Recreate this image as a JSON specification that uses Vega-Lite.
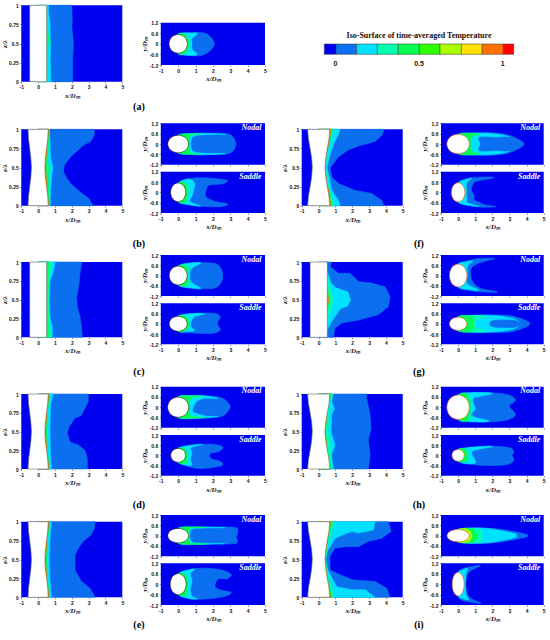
{"$schema":"https://vega.github.io/schema/vega-lite/v6.json","autosize":"none","width":550,"height":640,"padding":0,"background":"white",
"resolve":{"scale":{"x":"independent","y":"independent"},"axis":{"x":"independent","y":"independent"}},
"config":{"view":{"stroke":null},"axis":{"grid":false,"domain":false,"tickSize":1.5,"tickWidth":0.5,"tickColor":"#333","labelFont":"Liberation Sans","labelFontWeight":"bold","labelFontSize":5,"labelPadding":1.5,"labelColor":"#111","titleFont":"Liberation Serif","titleFontStyle":"italic","titleFontWeight":"bold","titleFontSize":7,"titleColor":"#111","titlePadding":1.5,"labelOverlap":false,"labelFlush":false},"range":{"category":["#ffffff","#0000f0","#0a70f0","#00e0ff","#00ffb0","#00ff50","#30ff00","#a8ff00","#ffe000","#ff7000","#ff0000","#0a70f0","#ffffff","#ffffff"],"ordinal":["#666666","#0000f0","#0a70f0","#00e0ff","#00ffb0","#00ff50","#30ff00","#a8ff00","#ffe000","#ff7000","#ff0000","#0a70f0","#2a1a10","#e8500a"]},"style":{"c":{"strokeWidth":0.6},"bg":{"color":"#0000f0"},"lab":{"font":"Liberation Serif","fontWeight":"bold","fontStyle":"italic","fontSize":8,"color":"#ffffff","align":"right","baseline":"middle"},"cap":{"font":"Liberation Serif","fontWeight":"bold","fontSize":10,"color":"#000000","align":"center","baseline":"middle"}}},
"datasets":{"bgL":[{"x":-1,"x2":5,"y":0,"y2":1}],"bgS":[{"x":-1,"x2":5,"y":-1.2,"y2":1.2}]},
"layer":[
{"encoding":{"x":{"field":"x","type":"quantitative","scale":{"domain":[-0.066,1.066],"range":[324.3,513.7],"nice":false},"axis":null},"y":{"field":"y","type":"quantitative","scale":{"domain":[0,1],"range":[54.3,44]},"axis":null}},"layer":[{"data":{"values":[{"x":-0.066,"x2":0.004,"y":0,"y2":1,"l":"L0"},{"x":0.004,"x2":0.127,"y":0,"y2":1,"l":"L1"},{"x":0.127,"x2":0.251,"y":0,"y2":1,"l":"L2"},{"x":0.251,"x2":0.376,"y":0,"y2":1,"l":"L3"},{"x":0.376,"x2":0.502,"y":0,"y2":1,"l":"L4"},{"x":0.502,"x2":0.625,"y":0,"y2":1,"l":"L5"},{"x":0.625,"x2":0.753,"y":0,"y2":1,"l":"L6"},{"x":0.753,"x2":0.878,"y":0,"y2":1,"l":"L7"},{"x":0.878,"x2":1.004,"y":0,"y2":1,"l":"L8"},{"x":1.004,"x2":1.066,"y":0,"y2":1,"l":"L9"}]},"mark":{"type":"rect","stroke":"#333","strokeWidth":0.5},"encoding":{"x2":{"field":"x2"},"y2":{"field":"y2"},"fill":{"field":"l","type":"nominal","legend":null}}},
{"data":{"values":[{"x":-0.066,"y":0,"l":"L0"},{"x":0.127,"y":0,"l":"L2"},{"x":0.251,"y":0,"l":"L3"},{"x":0.376,"y":0,"l":"L4"},{"x":0.502,"y":0,"l":"L5"},{"x":0.625,"y":0,"l":"L6"},{"x":0.753,"y":0,"l":"L7"},{"x":0.878,"y":0,"l":"L8"},{"x":1.004,"y":0,"l":"L9"}]},"mark":{"type":"point","opacity":0,"size":1},"encoding":{"stroke":{"field":"l","type":"ordinal","legend":null}}},
{"data":{"values":[{"x":0,"y":-0.9,"t":"0"},{"x":0.5,"y":-0.9,"t":"0.5"},{"x":1,"y":-0.9,"t":"1"}]},"mark":{"type":"text","font":"Liberation Sans","fontWeight":"bold","fontSize":7,"fill":"#111","baseline":"middle"},"encoding":{"text":{"field":"t"}}},
{"data":{"values":[{"x":0.5,"y":1.73,"t":"Iso-Surface of time-averaged Temperature"}]},"mark":{"type":"text","font":"Liberation Serif","fontWeight":"bold","fontSize":8,"fill":"#111","baseline":"middle"},"encoding":{"text":{"field":"t"}}}]},

{"encoding":{"x":{"field":"x","type":"quantitative","scale":{"domain":[-1,5],"range":[21.3,122.3]},"axis":{"orient":"bottom","offset":-558.3,"title":"x/Dₘ","values":[-1,0,1,2,3,4,5],"labelExpr":"''+datum.value"}},"y":{"field":"y","type":"quantitative","scale":{"domain":[0,1],"range":[81.7,5.3]},"axis":{"orient":"left","offset":-21.3,"title":"z/λ","values":[0,0.25,0.5,0.75,1],"labelExpr":"''+datum.value"}}},"layer":[{"data":{"name":"bgL"},"mark":{"type":"rect","style":"bg"},"encoding":{"x2":{"field":"x2"},"y2":{"field":"y2"}}},{"data":{"values":[
{"l":"L1","x":2.0,"y":1},{"l":"L1","x":2.03,"y":0.8},{"l":"L1","x":2.0,"y":0.72},{"l":"L1","x":2.1,"y":0.5},{"l":"L1","x":2.05,"y":0.3},{"l":"L1","x":2.05,"y":0},{"l":"L1","x":0,"y":0},{"l":"L1","x":0,"y":1},
{"l":"L2","x":0.62,"y":1},{"l":"L2","x":0.62,"y":0.9},{"l":"L2","x":0.7,"y":0.8},{"l":"L2","x":0.72,"y":0.6},{"l":"L2","x":0.75,"y":0.5},{"l":"L2","x":0.72,"y":0.3},{"l":"L2","x":0.75,"y":0.1},{"l":"L2","x":0.75,"y":0},{"l":"L2","x":0,"y":0},{"l":"L2","x":0,"y":1},
{"l":"L4","x":0.53,"y":1},{"l":"L4","x":0.55,"y":0.75},{"l":"L4","x":0.62,"y":0.55},{"l":"L4","x":0.56,"y":0.4},{"l":"L4","x":0.54,"y":0},{"l":"L4","x":0,"y":0},{"l":"L4","x":0,"y":1},
{"l":"G","x":0.5,"y":1},{"l":"G","x":0.5,"y":0},{"l":"G","x":-0.5,"y":0},{"l":"G","x":-0.5,"y":1}]},"mark":{"type":"line","style":"c","interpolate":"linear-closed"},"encoding":{"fill":{"field":"l","type":"nominal","legend":null},"stroke":{"field":"l","type":"ordinal","legend":null},"order":{"value":null}}}]},

{"encoding":{"x":{"field":"x","type":"quantitative","scale":{"domain":[-1,5],"range":[160.8,265]},"axis":{"orient":"bottom","offset":-575,"title":"x/Dₘ","values":[-1,0,1,2,3,4,5],"labelExpr":"''+datum.value"}},"y":{"field":"y","type":"quantitative","scale":{"domain":[-1.2,1.2],"range":[65,22.7],"nice":false},"axis":{"orient":"left","offset":-160.8,"title":"y/Dₘ","values":[-1.2,-0.6,0,0.6,1.2],"labelExpr":"''+datum.value"}}},"layer":[{"data":{"name":"bgS"},"mark":{"type":"rect","style":"bg"},"encoding":{"x2":{"field":"x2"},"y2":{"field":"y2"}}},{"data":{"values":[
{"l":"L1","x":0,"y":0.5},{"l":"L1","x":0.7,"y":0.62},{"l":"L1","x":1.3,"y":0.64},{"l":"L1","x":1.75,"y":0.5},{"l":"L1","x":2.08,"y":0},{"l":"L1","x":1.75,"y":-0.46},{"l":"L1","x":1.3,"y":-0.66},{"l":"L1","x":0.7,"y":-0.66},{"l":"L1","x":0,"y":-0.5},{"l":"L1","x":-0.2,"y":0},
{"l":"L2","x":0,"y":0.55},{"l":"L2","x":0.8,"y":0.62},{"l":"L2","x":1.1,"y":0.58},{"l":"L2","x":0.8,"y":0.3},{"l":"L2","x":0.8,"y":0},{"l":"L2","x":0.8,"y":-0.3},{"l":"L2","x":1.1,"y":-0.58},{"l":"L2","x":0.8,"y":-0.65},{"l":"L2","x":0,"y":-0.55},{"l":"L2","x":-0.2,"y":0},
{"l":"L4","x":0,"y":0.54},{"l":"L4","x":0.42,"y":0.5},{"l":"L4","x":0.58,"y":0.25},{"l":"L4","x":0.6,"y":0},{"l":"L4","x":0.58,"y":-0.25},{"l":"L4","x":0.42,"y":-0.52},{"l":"L4","x":0,"y":-0.54},
{"l":"W","x":0.53,"y":0},{"l":"W","x":0.38,"y":0.38},{"l":"W","x":0,"y":0.53},{"l":"W","x":-0.38,"y":0.38},{"l":"W","x":-0.53,"y":0},{"l":"W","x":-0.38,"y":-0.38},{"l":"W","x":0,"y":-0.53},{"l":"W","x":0.38,"y":-0.38}]},"mark":{"type":"line","style":"c","interpolate":"cardinal-closed"},"encoding":{"fill":{"field":"l","type":"nominal","legend":null},"stroke":{"field":"l","type":"ordinal","legend":null},"order":{"value":null}}},
{"data":{"values":[{"x":-2.26,"y":-3.59,"t":"(a)"}]},"mark":{"type":"text","style":"cap"},"encoding":{"text":{"field":"t"}}}]},

{"encoding":{"x":{"field":"x","type":"quantitative","scale":{"domain":[-1,5],"range":[21.3,122.3]},"axis":{"orient":"bottom","offset":-434.3,"title":"x/Dₘ","values":[-1,0,1,2,3,4,5],"labelExpr":"''+datum.value"}},"y":{"field":"y","type":"quantitative","scale":{"domain":[0,1],"range":[205.7,129.3]},"axis":{"orient":"left","offset":-21.3,"title":"z/λ","values":[0,0.25,0.5,0.75,1],"labelExpr":"''+datum.value"}}},"layer":[{"data":{"name":"bgL"},"mark":{"type":"rect","style":"bg"},"encoding":{"x2":{"field":"x2"},"y2":{"field":"y2"}}},{"data":{"values":[
{"l":"L1","x":3.32,"y":1},{"l":"L1","x":3.34,"y":0.93},{"l":"L1","x":3.12,"y":0.84},{"l":"L1","x":2.68,"y":0.79},{"l":"L1","x":2.39,"y":0.73},{"l":"L1","x":1.99,"y":0.655},{"l":"L1","x":1.55,"y":0.53},{"l":"L1","x":1.5,"y":0.445},{"l":"L1","x":1.7,"y":0.36},{"l":"L1","x":1.93,"y":0.29},{"l":"L1","x":2.49,"y":0.18},{"l":"L1","x":2.98,"y":0.1},{"l":"L1","x":3.28,"y":0},{"l":"L1","x":0,"y":0},{"l":"L1","x":0,"y":1},
{"l":"L2","x":0.68,"y":1},{"l":"L2","x":0.72,"y":0.75},{"l":"L2","x":0.75,"y":0.62},{"l":"L2","x":0.88,"y":0.5},{"l":"L2","x":0.82,"y":0.42},{"l":"L2","x":0.75,"y":0.2},{"l":"L2","x":0.72,"y":0},{"l":"L2","x":0,"y":0},{"l":"L2","x":0,"y":1},
{"l":"L4","x":0.64,"y":1},{"l":"L4","x":0.6,"y":0.75},{"l":"L4","x":0.55,"y":0.6},{"l":"L4","x":0.62,"y":0.5},{"l":"L4","x":0.6,"y":0.35},{"l":"L4","x":0.62,"y":0.15},{"l":"L4","x":0.66,"y":0},{"l":"L4","x":0,"y":0},{"l":"L4","x":0,"y":1},
{"l":"L8","x":0.62,"y":1},{"l":"L8","x":0.55,"y":0.8},{"l":"L8","x":0.46,"y":0.6},{"l":"L8","x":0.45,"y":0.5},{"l":"L8","x":0.47,"y":0.4},{"l":"L8","x":0.55,"y":0.2},{"l":"L8","x":0.62,"y":0},{"l":"L8","x":0,"y":0},{"l":"L8","x":0,"y":1},
{"l":"G","x":0.6,"y":1},{"l":"G","x":0.57,"y":0.875},{"l":"G","x":0.5,"y":0.75},{"l":"G","x":0.43,"y":0.625},{"l":"G","x":0.4,"y":0.5},{"l":"G","x":0.43,"y":0.375},{"l":"G","x":0.5,"y":0.25},{"l":"G","x":0.57,"y":0.125},{"l":"G","x":0.6,"y":0},{"l":"G","x":-0.6,"y":0},{"l":"G","x":-0.57,"y":0.125},{"l":"G","x":-0.5,"y":0.25},{"l":"G","x":-0.43,"y":0.375},{"l":"G","x":-0.4,"y":0.5},{"l":"G","x":-0.43,"y":0.625},{"l":"G","x":-0.5,"y":0.75},{"l":"G","x":-0.57,"y":0.875},{"l":"G","x":-0.6,"y":1}]},"mark":{"type":"line","style":"c","interpolate":"linear-closed"},"encoding":{"fill":{"field":"l","type":"nominal","legend":null},"stroke":{"field":"l","type":"ordinal","legend":null},"order":{"value":null}}}]},

{"encoding":{"x":{"field":"x","type":"quantitative","scale":{"domain":[-1,5],"range":[21.3,122.3]},"axis":{"orient":"bottom","offset":-302.7,"title":"x/Dₘ","values":[-1,0,1,2,3,4,5],"labelExpr":"''+datum.value"}},"y":{"field":"y","type":"quantitative","scale":{"domain":[0,1],"range":[337.3,262]},"axis":{"orient":"left","offset":-21.3,"title":"z/λ","values":[0,0.25,0.5,0.75,1],"labelExpr":"''+datum.value"}}},"layer":[{"data":{"name":"bgL"},"mark":{"type":"rect","style":"bg"},"encoding":{"x2":{"field":"x2"},"y2":{"field":"y2"}}},{"data":{"values":[
{"l":"L1","x":2.6,"y":1},{"l":"L1","x":2.5,"y":0.88},{"l":"L1","x":2.45,"y":0.75},{"l":"L1","x":2.35,"y":0.6},{"l":"L1","x":2.28,"y":0.54},{"l":"L1","x":2.33,"y":0.4},{"l":"L1","x":2.48,"y":0.28},{"l":"L1","x":2.58,"y":0.14},{"l":"L1","x":2.62,"y":0},{"l":"L1","x":0,"y":0},{"l":"L1","x":0,"y":1},
{"l":"L2","x":1.0,"y":1},{"l":"L2","x":0.9,"y":0.87},{"l":"L2","x":0.7,"y":0.74},{"l":"L2","x":0.66,"y":0.5},{"l":"L2","x":0.7,"y":0.27},{"l":"L2","x":0.84,"y":0.14},{"l":"L2","x":0.84,"y":0},{"l":"L2","x":0,"y":0},{"l":"L2","x":0,"y":1},
{"l":"L3","x":0.8,"y":1},{"l":"L3","x":0.66,"y":0.8},{"l":"L3","x":0.62,"y":0.5},{"l":"L3","x":0.66,"y":0.2},{"l":"L3","x":0.75,"y":0},{"l":"L3","x":0,"y":0},{"l":"L3","x":0,"y":1},
{"l":"L4","x":0.64,"y":1},{"l":"L4","x":0.6,"y":0.75},{"l":"L4","x":0.57,"y":0.5},{"l":"L4","x":0.6,"y":0.2},{"l":"L4","x":0.62,"y":0},{"l":"L4","x":0,"y":0},{"l":"L4","x":0,"y":1},
{"l":"G","x":0.5,"y":1},{"l":"G","x":0.5,"y":0},{"l":"G","x":-0.5,"y":0},{"l":"G","x":-0.5,"y":1}]},"mark":{"type":"line","style":"c","interpolate":"linear-closed"},"encoding":{"fill":{"field":"l","type":"nominal","legend":null},"stroke":{"field":"l","type":"ordinal","legend":null},"order":{"value":null}}}]},

{"encoding":{"x":{"field":"x","type":"quantitative","scale":{"domain":[-1,5],"range":[21.3,122.3]},"axis":{"orient":"bottom","offset":-171,"title":"x/Dₘ","values":[-1,0,1,2,3,4,5],"labelExpr":"''+datum.value"}},"y":{"field":"y","type":"quantitative","scale":{"domain":[0,1],"range":[469,394]},"axis":{"orient":"left","offset":-21.3,"title":"z/λ","values":[0,0.25,0.5,0.75,1],"labelExpr":"''+datum.value"}}},"layer":[{"data":{"name":"bgL"},"mark":{"type":"rect","style":"bg"},"encoding":{"x2":{"field":"x2"},"y2":{"field":"y2"}}},{"data":{"values":[
{"l":"L1","x":2.98,"y":1},{"l":"L1","x":2.98,"y":0.9},{"l":"L1","x":2.78,"y":0.81},{"l":"L1","x":2.54,"y":0.71},{"l":"L1","x":2.19,"y":0.68},{"l":"L1","x":1.83,"y":0.56},{"l":"L1","x":1.73,"y":0.48},{"l":"L1","x":1.89,"y":0.36},{"l":"L1","x":2.39,"y":0.32},{"l":"L1","x":2.78,"y":0.25},{"l":"L1","x":2.92,"y":0.14},{"l":"L1","x":2.92,"y":0},{"l":"L1","x":0,"y":0},{"l":"L1","x":0,"y":1},
{"l":"L2","x":0.9,"y":1},{"l":"L2","x":0.74,"y":0.85},{"l":"L2","x":0.7,"y":0.5},{"l":"L2","x":0.74,"y":0.18},{"l":"L2","x":0.8,"y":0},{"l":"L2","x":0,"y":0},{"l":"L2","x":0,"y":1},
{"l":"L4","x":0.68,"y":1},{"l":"L4","x":0.55,"y":0.75},{"l":"L4","x":0.49,"y":0.5},{"l":"L4","x":0.55,"y":0.25},{"l":"L4","x":0.66,"y":0},{"l":"L4","x":0,"y":0},{"l":"L4","x":0,"y":1},
{"l":"L8","x":0.64,"y":1},{"l":"L8","x":0.52,"y":0.75},{"l":"L8","x":0.43,"y":0.5},{"l":"L8","x":0.52,"y":0.25},{"l":"L8","x":0.64,"y":0},{"l":"L8","x":0,"y":0},{"l":"L8","x":0,"y":1},
{"l":"G","x":0.6,"y":1},{"l":"G","x":0.57,"y":0.875},{"l":"G","x":0.5,"y":0.75},{"l":"G","x":0.43,"y":0.625},{"l":"G","x":0.4,"y":0.5},{"l":"G","x":0.43,"y":0.375},{"l":"G","x":0.5,"y":0.25},{"l":"G","x":0.57,"y":0.125},{"l":"G","x":0.6,"y":0},{"l":"G","x":-0.6,"y":0},{"l":"G","x":-0.57,"y":0.125},{"l":"G","x":-0.5,"y":0.25},{"l":"G","x":-0.43,"y":0.375},{"l":"G","x":-0.4,"y":0.5},{"l":"G","x":-0.43,"y":0.625},{"l":"G","x":-0.5,"y":0.75},{"l":"G","x":-0.57,"y":0.875},{"l":"G","x":-0.6,"y":1}]},"mark":{"type":"line","style":"c","interpolate":"linear-closed"},"encoding":{"fill":{"field":"l","type":"nominal","legend":null},"stroke":{"field":"l","type":"ordinal","legend":null},"order":{"value":null}}}]},

{"encoding":{"x":{"field":"x","type":"quantitative","scale":{"domain":[-1,5],"range":[21.3,122.3]},"axis":{"orient":"bottom","offset":-42.7,"title":"x/Dₘ","values":[-1,0,1,2,3,4,5],"labelExpr":"''+datum.value"}},"y":{"field":"y","type":"quantitative","scale":{"domain":[0,1],"range":[597.3,521.7]},"axis":{"orient":"left","offset":-21.3,"title":"z/λ","values":[0,0.25,0.5,0.75,1],"labelExpr":"''+datum.value"}}},"layer":[{"data":{"name":"bgL"},"mark":{"type":"rect","style":"bg"},"encoding":{"x2":{"field":"x2"},"y2":{"field":"y2"}}},{"data":{"values":[
{"l":"L1","x":3.38,"y":1},{"l":"L1","x":3.34,"y":0.91},{"l":"L1","x":3.12,"y":0.82},{"l":"L1","x":2.68,"y":0.74},{"l":"L1","x":2.39,"y":0.65},{"l":"L1","x":2.19,"y":0.56},{"l":"L1","x":2.19,"y":0.36},{"l":"L1","x":2.58,"y":0.21},{"l":"L1","x":3.08,"y":0.12},{"l":"L1","x":3.38,"y":0},{"l":"L1","x":0,"y":0},{"l":"L1","x":0,"y":1},
{"l":"L2","x":0.8,"y":1},{"l":"L2","x":0.7,"y":0.76},{"l":"L2","x":0.66,"y":0.5},{"l":"L2","x":0.7,"y":0.23},{"l":"L2","x":0.8,"y":0},{"l":"L2","x":0,"y":0},{"l":"L2","x":0,"y":1},
{"l":"L4","x":0.68,"y":1},{"l":"L4","x":0.55,"y":0.75},{"l":"L4","x":0.49,"y":0.5},{"l":"L4","x":0.55,"y":0.25},{"l":"L4","x":0.66,"y":0},{"l":"L4","x":0,"y":0},{"l":"L4","x":0,"y":1},
{"l":"L8","x":0.64,"y":1},{"l":"L8","x":0.52,"y":0.75},{"l":"L8","x":0.43,"y":0.5},{"l":"L8","x":0.52,"y":0.25},{"l":"L8","x":0.64,"y":0},{"l":"L8","x":0,"y":0},{"l":"L8","x":0,"y":1},
{"l":"G","x":0.6,"y":1},{"l":"G","x":0.57,"y":0.875},{"l":"G","x":0.5,"y":0.75},{"l":"G","x":0.43,"y":0.625},{"l":"G","x":0.4,"y":0.5},{"l":"G","x":0.43,"y":0.375},{"l":"G","x":0.5,"y":0.25},{"l":"G","x":0.57,"y":0.125},{"l":"G","x":0.6,"y":0},{"l":"G","x":-0.6,"y":0},{"l":"G","x":-0.57,"y":0.125},{"l":"G","x":-0.5,"y":0.25},{"l":"G","x":-0.43,"y":0.375},{"l":"G","x":-0.4,"y":0.5},{"l":"G","x":-0.43,"y":0.625},{"l":"G","x":-0.5,"y":0.75},{"l":"G","x":-0.57,"y":0.875},{"l":"G","x":-0.6,"y":1}]},"mark":{"type":"line","style":"c","interpolate":"linear-closed"},"encoding":{"fill":{"field":"l","type":"nominal","legend":null},"stroke":{"field":"l","type":"ordinal","legend":null},"order":{"value":null}}}]},

{"encoding":{"x":{"field":"x","type":"quantitative","scale":{"domain":[-1,5],"range":[301.7,402.7]},"axis":{"orient":"bottom","offset":-434.3,"title":"x/Dₘ","values":[-1,0,1,2,3,4,5],"labelExpr":"''+datum.value"}},"y":{"field":"y","type":"quantitative","scale":{"domain":[0,1],"range":[205.7,129.3]},"axis":{"orient":"left","offset":-301.7,"title":"z/λ","values":[0,0.25,0.5,0.75,1],"labelExpr":"''+datum.value"}}},"layer":[{"data":{"name":"bgL"},"mark":{"type":"rect","style":"bg"},"encoding":{"x2":{"field":"x2"},"y2":{"field":"y2"}}},{"data":{"values":[
{"l":"L1","x":3.89,"y":1},{"l":"L1","x":3.79,"y":0.93},{"l":"L1","x":3.36,"y":0.84},{"l":"L1","x":2.37,"y":0.78},{"l":"L1","x":1.77,"y":0.73},{"l":"L1","x":1.18,"y":0.64},{"l":"L1","x":0.68,"y":0.49},{"l":"L1","x":0.78,"y":0.38},{"l":"L1","x":1.18,"y":0.29},{"l":"L1","x":2.17,"y":0.2},{"l":"L1","x":3.16,"y":0.16},{"l":"L1","x":3.75,"y":0.07},{"l":"L1","x":3.89,"y":0},{"l":"L1","x":0,"y":0},{"l":"L1","x":0,"y":1},
{"l":"L2","x":1.28,"y":1},{"l":"L2","x":1.18,"y":0.93},{"l":"L2","x":0.88,"y":0.8},{"l":"L2","x":0.68,"y":0.66},{"l":"L2","x":0.5,"y":0.5},{"l":"L2","x":0.65,"y":0.36},{"l":"L2","x":0.78,"y":0.2},{"l":"L2","x":1.18,"y":0.07},{"l":"L2","x":1.28,"y":0},{"l":"L2","x":0,"y":0},{"l":"L2","x":0,"y":1},
{"l":"L3","x":0.88,"y":1},{"l":"L3","x":0.78,"y":0.93},{"l":"L3","x":0.58,"y":0.75},{"l":"L3","x":0.42,"y":0.52},{"l":"L3","x":0.55,"y":0.3},{"l":"L3","x":0.78,"y":0.1},{"l":"L3","x":0.88,"y":0},{"l":"L3","x":0,"y":0},{"l":"L3","x":0,"y":1},
{"l":"L4","x":0.82,"y":1},{"l":"L4","x":0.7,"y":0.85},{"l":"L4","x":0.47,"y":0.68},{"l":"L4","x":0.38,"y":0.5},{"l":"L4","x":0.47,"y":0.32},{"l":"L4","x":0.7,"y":0.15},{"l":"L4","x":0.82,"y":0},{"l":"L4","x":0,"y":0},{"l":"L4","x":0,"y":1},
{"l":"L8","x":0.72,"y":1},{"l":"L8","x":0.66,"y":0.87},{"l":"L8","x":0.45,"y":0.66},{"l":"L8","x":0.4,"y":0.5},{"l":"L8","x":0.45,"y":0.34},{"l":"L8","x":0.66,"y":0.13},{"l":"L8","x":0.72,"y":0},{"l":"L8","x":0,"y":0},{"l":"L8","x":0,"y":1},
{"l":"G","x":0.67,"y":1},{"l":"G","x":0.62,"y":0.875},{"l":"G","x":0.52,"y":0.75},{"l":"G","x":0.43,"y":0.625},{"l":"G","x":0.38,"y":0.5},{"l":"G","x":0.43,"y":0.375},{"l":"G","x":0.52,"y":0.25},{"l":"G","x":0.62,"y":0.125},{"l":"G","x":0.67,"y":0},{"l":"G","x":-0.65,"y":0},{"l":"G","x":-0.6,"y":0.125},{"l":"G","x":-0.5,"y":0.25},{"l":"G","x":-0.41,"y":0.375},{"l":"G","x":-0.37,"y":0.5},{"l":"G","x":-0.41,"y":0.625},{"l":"G","x":-0.5,"y":0.75},{"l":"G","x":-0.6,"y":0.875},{"l":"G","x":-0.65,"y":1}]},"mark":{"type":"line","style":"c","interpolate":"linear-closed"},"encoding":{"fill":{"field":"l","type":"nominal","legend":null},"stroke":{"field":"l","type":"ordinal","legend":null},"order":{"value":null}}}]},

{"encoding":{"x":{"field":"x","type":"quantitative","scale":{"domain":[-1,5],"range":[301.7,402.7]},"axis":{"orient":"bottom","offset":-302.7,"title":"x/Dₘ","values":[-1,0,1,2,3,4,5],"labelExpr":"''+datum.value"}},"y":{"field":"y","type":"quantitative","scale":{"domain":[0,1],"range":[337.3,262]},"axis":{"orient":"left","offset":-301.7,"title":"z/λ","values":[0,0.25,0.5,0.75,1],"labelExpr":"''+datum.value"}}},"layer":[{"data":{"name":"bgL"},"mark":{"type":"rect","style":"bg"},"encoding":{"x2":{"field":"x2"},"y2":{"field":"y2"}}},{"data":{"values":[
{"l":"L1","x":0.78,"y":1},{"l":"L1","x":0.68,"y":0.94},{"l":"L1","x":1.18,"y":0.85},{"l":"L1","x":1.87,"y":0.85},{"l":"L1","x":2.37,"y":0.74},{"l":"L1","x":3.16,"y":0.72},{"l":"L1","x":3.95,"y":0.67},{"l":"L1","x":4.25,"y":0.54},{"l":"L1","x":4.15,"y":0.41},{"l":"L1","x":3.55,"y":0.3},{"l":"L1","x":2.37,"y":0.23},{"l":"L1","x":1.38,"y":0.19},{"l":"L1","x":0.98,"y":0.12},{"l":"L1","x":0.88,"y":0},{"l":"L1","x":0,"y":0},{"l":"L1","x":0,"y":1},
{"l":"L2","x":0.54,"y":0.86},{"l":"L2","x":0.75,"y":0.72},{"l":"L2","x":1.0,"y":0.66},{"l":"L2","x":1.38,"y":0.63},{"l":"L2","x":1.75,"y":0.6},{"l":"L2","x":1.9,"y":0.5},{"l":"L2","x":1.75,"y":0.42},{"l":"L2","x":1.3,"y":0.38},{"l":"L2","x":0.9,"y":0.25},{"l":"L2","x":0.6,"y":0.14},{"l":"L2","x":0.54,"y":0.1},{"l":"L2","x":0,"y":0.1},{"l":"L2","x":0,"y":0.86},
{"l":"L3","x":0.56,"y":0.78},{"l":"L3","x":0.7,"y":0.6},{"l":"L3","x":0.9,"y":0.5},{"l":"L3","x":0.7,"y":0.38},{"l":"L3","x":0.56,"y":0.25},{"l":"L3","x":0,"y":0.25},{"l":"L3","x":0,"y":0.78},
{"l":"L4","x":0.52,"y":0.7},{"l":"L4","x":0.65,"y":0.52},{"l":"L4","x":0.6,"y":0.4},{"l":"L4","x":0.52,"y":0.3},{"l":"L4","x":0,"y":0.3},{"l":"L4","x":0,"y":0.7},
{"l":"L8","x":0.52,"y":0.62},{"l":"L8","x":0.6,"y":0.5},{"l":"L8","x":0.52,"y":0.38},{"l":"L8","x":0,"y":0.38},{"l":"L8","x":0,"y":0.62},
{"l":"G","x":0.52,"y":1},{"l":"G","x":0.52,"y":0},{"l":"G","x":-0.5,"y":0},{"l":"G","x":-0.5,"y":1}]},"mark":{"type":"line","style":"c","interpolate":"linear-closed"},"encoding":{"fill":{"field":"l","type":"nominal","legend":null},"stroke":{"field":"l","type":"ordinal","legend":null},"order":{"value":null}}}]},

{"encoding":{"x":{"field":"x","type":"quantitative","scale":{"domain":[-1,5],"range":[301.7,402.7]},"axis":{"orient":"bottom","offset":-171,"title":"x/Dₘ","values":[-1,0,1,2,3,4,5],"labelExpr":"''+datum.value"}},"y":{"field":"y","type":"quantitative","scale":{"domain":[0,1],"range":[469,394]},"axis":{"orient":"left","offset":-301.7,"title":"z/λ","values":[0,0.25,0.5,0.75,1],"labelExpr":"''+datum.value"}}},"layer":[{"data":{"name":"bgL"},"mark":{"type":"rect","style":"bg"},"encoding":{"x2":{"field":"x2"},"y2":{"field":"y2"}}},{"data":{"values":[
{"l":"L1","x":2.86,"y":1},{"l":"L1","x":2.86,"y":0.94},{"l":"L1","x":3.06,"y":0.72},{"l":"L1","x":3.12,"y":0.54},{"l":"L1","x":2.96,"y":0.39},{"l":"L1","x":3.06,"y":0.19},{"l":"L1","x":2.96,"y":0},{"l":"L1","x":0,"y":0},{"l":"L1","x":0,"y":1},
{"l":"L2","x":0.88,"y":1},{"l":"L2","x":0.78,"y":0.9},{"l":"L2","x":0.94,"y":0.81},{"l":"L2","x":0.78,"y":0.72},{"l":"L2","x":0.74,"y":0.5},{"l":"L2","x":0.98,"y":0.32},{"l":"L2","x":0.78,"y":0.19},{"l":"L2","x":0.88,"y":0},{"l":"L2","x":0,"y":0},{"l":"L2","x":0,"y":1},
{"l":"L3","x":0.8,"y":1},{"l":"L3","x":0.62,"y":0.85},{"l":"L3","x":0.55,"y":0.5},{"l":"L3","x":0.7,"y":0.3},{"l":"L3","x":0.75,"y":0},{"l":"L3","x":0,"y":0},{"l":"L3","x":0,"y":1},
{"l":"L4","x":0.76,"y":1},{"l":"L4","x":0.55,"y":0.8},{"l":"L4","x":0.42,"y":0.5},{"l":"L4","x":0.55,"y":0.22},{"l":"L4","x":0.72,"y":0},{"l":"L4","x":0,"y":0},{"l":"L4","x":0,"y":1},
{"l":"L8","x":0.68,"y":1},{"l":"L8","x":0.5,"y":0.75},{"l":"L8","x":0.39,"y":0.5},{"l":"L8","x":0.5,"y":0.25},{"l":"L8","x":0.68,"y":0},{"l":"L8","x":0,"y":0},{"l":"L8","x":0,"y":1},
{"l":"G","x":0.67,"y":1},{"l":"G","x":0.62,"y":0.875},{"l":"G","x":0.52,"y":0.75},{"l":"G","x":0.43,"y":0.625},{"l":"G","x":0.38,"y":0.5},{"l":"G","x":0.43,"y":0.375},{"l":"G","x":0.52,"y":0.25},{"l":"G","x":0.62,"y":0.125},{"l":"G","x":0.67,"y":0},{"l":"G","x":-0.65,"y":0},{"l":"G","x":-0.6,"y":0.125},{"l":"G","x":-0.5,"y":0.25},{"l":"G","x":-0.41,"y":0.375},{"l":"G","x":-0.37,"y":0.5},{"l":"G","x":-0.41,"y":0.625},{"l":"G","x":-0.5,"y":0.75},{"l":"G","x":-0.6,"y":0.875},{"l":"G","x":-0.65,"y":1}]},"mark":{"type":"line","style":"c","interpolate":"linear-closed"},"encoding":{"fill":{"field":"l","type":"nominal","legend":null},"stroke":{"field":"l","type":"ordinal","legend":null},"order":{"value":null}}}]},

{"encoding":{"x":{"field":"x","type":"quantitative","scale":{"domain":[-1,5],"range":[301.7,402.7]},"axis":{"orient":"bottom","offset":-42.7,"title":"x/Dₘ","values":[-1,0,1,2,3,4,5],"labelExpr":"''+datum.value"}},"y":{"field":"y","type":"quantitative","scale":{"domain":[0,1],"range":[597.3,521.7]},"axis":{"orient":"left","offset":-301.7,"title":"z/λ","values":[0,0.25,0.5,0.75,1],"labelExpr":"''+datum.value"}}},"layer":[{"data":{"name":"bgL"},"mark":{"type":"rect","style":"bg"},"encoding":{"x2":{"field":"x2"},"y2":{"field":"y2"}}},{"data":{"values":[
{"l":"L1","x":4.15,"y":1},{"l":"L1","x":4.31,"y":0.87},{"l":"L1","x":3.75,"y":0.78},{"l":"L1","x":2.96,"y":0.74},{"l":"L1","x":2.37,"y":0.67},{"l":"L1","x":1.57,"y":0.67},{"l":"L1","x":0.98,"y":0.65},{"l":"L1","x":0.68,"y":0.54},{"l":"L1","x":0.68,"y":0.36},{"l":"L1","x":1.38,"y":0.29},{"l":"L1","x":2.07,"y":0.23},{"l":"L1","x":3.36,"y":0.21},{"l":"L1","x":4.05,"y":0.12},{"l":"L1","x":4.25,"y":0},{"l":"L1","x":0,"y":0},{"l":"L1","x":0,"y":1},
{"l":"L2","x":3.36,"y":1},{"l":"L2","x":3.26,"y":0.89},{"l":"L2","x":2.37,"y":0.85},{"l":"L2","x":1.97,"y":0.87},{"l":"L2","x":1.38,"y":0.82},{"l":"L2","x":0.98,"y":0.78},{"l":"L2","x":0.74,"y":0.69},{"l":"L2","x":0.5,"y":0.6},{"l":"L2","x":0.42,"y":0.5},{"l":"L2","x":0.5,"y":0.4},{"l":"L2","x":0.68,"y":0.3},{"l":"L2","x":1.08,"y":0.14},{"l":"L2","x":1.97,"y":0.1},{"l":"L2","x":2.76,"y":0.1},{"l":"L2","x":3.36,"y":0},{"l":"L2","x":0,"y":0},{"l":"L2","x":0,"y":1},
{"l":"L3","x":0.95,"y":1},{"l":"L3","x":0.85,"y":0.9},{"l":"L3","x":0.6,"y":0.75},{"l":"L3","x":0.42,"y":0.5},{"l":"L3","x":0.6,"y":0.25},{"l":"L3","x":0.8,"y":0.12},{"l":"L3","x":0.9,"y":0},{"l":"L3","x":0,"y":0},{"l":"L3","x":0,"y":1},
{"l":"L4","x":0.82,"y":1},{"l":"L4","x":0.7,"y":0.88},{"l":"L4","x":0.5,"y":0.7},{"l":"L4","x":0.4,"y":0.5},{"l":"L4","x":0.5,"y":0.3},{"l":"L4","x":0.7,"y":0.12},{"l":"L4","x":0.8,"y":0},{"l":"L4","x":0,"y":0},{"l":"L4","x":0,"y":1},
{"l":"L8","x":0.72,"y":1},{"l":"L8","x":0.62,"y":0.88},{"l":"L8","x":0.45,"y":0.65},{"l":"L8","x":0.38,"y":0.5},{"l":"L8","x":0.45,"y":0.35},{"l":"L8","x":0.62,"y":0.12},{"l":"L8","x":0.72,"y":0},{"l":"L8","x":0,"y":0},{"l":"L8","x":0,"y":1},
{"l":"G","x":0.67,"y":1},{"l":"G","x":0.62,"y":0.875},{"l":"G","x":0.52,"y":0.75},{"l":"G","x":0.43,"y":0.625},{"l":"G","x":0.38,"y":0.5},{"l":"G","x":0.43,"y":0.375},{"l":"G","x":0.52,"y":0.25},{"l":"G","x":0.62,"y":0.125},{"l":"G","x":0.67,"y":0},{"l":"G","x":-0.65,"y":0},{"l":"G","x":-0.6,"y":0.125},{"l":"G","x":-0.5,"y":0.25},{"l":"G","x":-0.41,"y":0.375},{"l":"G","x":-0.37,"y":0.5},{"l":"G","x":-0.41,"y":0.625},{"l":"G","x":-0.5,"y":0.75},{"l":"G","x":-0.6,"y":0.875},{"l":"G","x":-0.65,"y":1}]},"mark":{"type":"line","style":"c","interpolate":"linear-closed"},"encoding":{"fill":{"field":"l","type":"nominal","legend":null},"stroke":{"field":"l","type":"ordinal","legend":null},"order":{"value":null}}}]},

{"encoding":{"x":{"field":"x","type":"quantitative","scale":{"domain":[-1,5],"range":[160.8,265]},"axis":{"orient":"bottom","offset":-475.3,"title":null,"values":[-1,0,1,2,3,4,5],"labels":false}},"y":{"field":"y","type":"quantitative","scale":{"domain":[-1.2,1.2],"range":[164.7,123.3],"nice":false},"axis":{"orient":"left","offset":-160.8,"title":"y/Dₘ","values":[-1.2,-0.6,0,0.6,1.2],"labelExpr":"''+datum.value"}}},"layer":[{"data":{"name":"bgS"},"mark":{"type":"rect","style":"bg"},"encoding":{"x2":{"field":"x2"},"y2":{"field":"y2"}}},{"data":{"values":[
{"l":"L1","x":0,"y":0.52},{"l":"L1","x":0.6,"y":0.6},{"l":"L1","x":1.5,"y":0.62},{"l":"L1","x":2.8,"y":0.6},{"l":"L1","x":3.2,"y":0.35},{"l":"L1","x":3.32,"y":0},{"l":"L1","x":3.2,"y":-0.35},{"l":"L1","x":2.8,"y":-0.58},{"l":"L1","x":1.5,"y":-0.62},{"l":"L1","x":0.6,"y":-0.6},{"l":"L1","x":0,"y":-0.52},{"l":"L1","x":-0.3,"y":0},
{"l":"L2","x":0,"y":0.5},{"l":"L2","x":0.6,"y":0.6},{"l":"L2","x":1.5,"y":0.62},{"l":"L2","x":2.7,"y":0.56},{"l":"L2","x":1.5,"y":0.54},{"l":"L2","x":0.85,"y":0.42},{"l":"L2","x":0.72,"y":0},{"l":"L2","x":0.85,"y":-0.42},{"l":"L2","x":1.5,"y":-0.54},{"l":"L2","x":2.7,"y":-0.56},{"l":"L2","x":1.5,"y":-0.62},{"l":"L2","x":0.6,"y":-0.6},{"l":"L2","x":0,"y":-0.5},{"l":"L2","x":-0.2,"y":0},
{"l":"L4","x":0,"y":0.5},{"l":"L4","x":0.6,"y":0.58},{"l":"L4","x":1.3,"y":0.59},{"l":"L4","x":0.72,"y":0.5},{"l":"L4","x":0.65,"y":0},{"l":"L4","x":0.72,"y":-0.5},{"l":"L4","x":1.3,"y":-0.59},{"l":"L4","x":0.6,"y":-0.58},{"l":"L4","x":0,"y":-0.5},{"l":"L4","x":-0.2,"y":0},
{"l":"W","x":0.6,"y":0},{"l":"W","x":0.43,"y":0.36},{"l":"W","x":0,"y":0.51},{"l":"W","x":-0.43,"y":0.36},{"l":"W","x":-0.6,"y":0},{"l":"W","x":-0.43,"y":-0.36},{"l":"W","x":0,"y":-0.51},{"l":"W","x":0.43,"y":-0.36}]},"mark":{"type":"line","style":"c","interpolate":"cardinal-closed"},"encoding":{"fill":{"field":"l","type":"nominal","legend":null},"stroke":{"field":"l","type":"ordinal","legend":null},"order":{"value":null}}},
{"data":{"values":[{"x":4.8,"y":0.92,"t":"Nodal"}]},"mark":{"type":"text","style":"lab"},"encoding":{"text":{"field":"t"}}}]},

{"encoding":{"x":{"field":"x","type":"quantitative","scale":{"domain":[-1,5],"range":[160.8,265]},"axis":{"orient":"bottom","offset":-427,"title":"x/Dₘ","values":[-1,0,1,2,3,4,5],"labelExpr":"''+datum.value"}},"y":{"field":"y","type":"quantitative","scale":{"domain":[-1.2,1.2],"range":[213,171.7],"nice":false},"axis":{"orient":"left","offset":-160.8,"title":"y/Dₘ","values":[-1.2,-0.6,0,0.6,1.2],"labelExpr":"''+datum.value"}}},"layer":[{"data":{"name":"bgS"},"mark":{"type":"rect","style":"bg"},"encoding":{"x2":{"field":"x2"},"y2":{"field":"y2"}}},{"data":{"values":[
{"l":"L1","x":0,"y":0.55},{"l":"L1","x":0.6,"y":0.78},{"l":"L1","x":1.3,"y":0.85},{"l":"L1","x":2.3,"y":0.78},{"l":"L1","x":2.85,"y":0.68},{"l":"L1","x":2.5,"y":0.48},{"l":"L1","x":1.8,"y":0.42},{"l":"L1","x":1.6,"y":0.1},{"l":"L1","x":1.6,"y":-0.25},{"l":"L1","x":2.04,"y":-0.5},{"l":"L1","x":2.85,"y":-0.68},{"l":"L1","x":2.45,"y":-0.83},{"l":"L1","x":1.5,"y":-0.82},{"l":"L1","x":0.7,"y":-0.72},{"l":"L1","x":0,"y":-0.55},{"l":"L1","x":-0.2,"y":0},
{"l":"L2","x":0,"y":0.55},{"l":"L2","x":0.6,"y":0.78},{"l":"L2","x":0.95,"y":0.55},{"l":"L2","x":0.9,"y":0.2},{"l":"L2","x":0.8,"y":-0.2},{"l":"L2","x":0.7,"y":-0.55},{"l":"L2","x":1.3,"y":-0.8},{"l":"L2","x":0.6,"y":-0.72},{"l":"L2","x":0,"y":-0.55},{"l":"L2","x":-0.2,"y":0},
{"l":"L4","x":0,"y":0.55},{"l":"L4","x":0.4,"y":0.55},{"l":"L4","x":0.58,"y":0.2},{"l":"L4","x":0.52,"y":-0.3},{"l":"L4","x":0.42,"y":-0.58},{"l":"L4","x":0,"y":-0.55},{"l":"L4","x":-0.2,"y":0},
{"l":"W","x":0.44,"y":0},{"l":"W","x":0.31,"y":0.39},{"l":"W","x":0,"y":0.55},{"l":"W","x":-0.31,"y":0.39},{"l":"W","x":-0.44,"y":0},{"l":"W","x":-0.31,"y":-0.39},{"l":"W","x":0,"y":-0.55},{"l":"W","x":0.31,"y":-0.39}]},"mark":{"type":"line","style":"c","interpolate":"cardinal-closed"},"encoding":{"fill":{"field":"l","type":"nominal","legend":null},"stroke":{"field":"l","type":"ordinal","legend":null},"order":{"value":null}}},
{"data":{"values":[{"x":4.8,"y":0.92,"t":"Saddle"}]},"mark":{"type":"text","style":"lab"},"encoding":{"text":{"field":"t"}}},
{"data":{"values":[{"x":-2.26,"y":-3.0,"t":"(b)"}]},"mark":{"type":"text","style":"cap"},"encoding":{"text":{"field":"t"}}}]},

{"encoding":{"x":{"field":"x","type":"quantitative","scale":{"domain":[-1,5],"range":[160.8,265]},"axis":{"orient":"bottom","offset":-344,"title":null,"values":[-1,0,1,2,3,4,5],"labels":false}},"y":{"field":"y","type":"quantitative","scale":{"domain":[-1.2,1.2],"range":[296,255],"nice":false},"axis":{"orient":"left","offset":-160.8,"title":"y/Dₘ","values":[-1.2,-0.6,0,0.6,1.2],"labelExpr":"''+datum.value"}}},"layer":[{"data":{"name":"bgS"},"mark":{"type":"rect","style":"bg"},"encoding":{"x2":{"field":"x2"},"y2":{"field":"y2"}}},{"data":{"values":[
{"l":"L1","x":0,"y":0.55},{"l":"L1","x":0.6,"y":0.72},{"l":"L1","x":1.5,"y":0.75},{"l":"L1","x":2.2,"y":0.68},{"l":"L1","x":2.52,"y":0.3},{"l":"L1","x":2.56,"y":0},{"l":"L1","x":2.52,"y":-0.3},{"l":"L1","x":2.2,"y":-0.7},{"l":"L1","x":1.5,"y":-0.78},{"l":"L1","x":0.6,"y":-0.72},{"l":"L1","x":0,"y":-0.55},{"l":"L1","x":-0.2,"y":0},
{"l":"L2","x":0,"y":0.55},{"l":"L2","x":0.6,"y":0.72},{"l":"L2","x":1.3,"y":0.74},{"l":"L2","x":0.9,"y":0.5},{"l":"L2","x":0.7,"y":0.3},{"l":"L2","x":0.68,"y":0},{"l":"L2","x":0.7,"y":-0.3},{"l":"L2","x":0.9,"y":-0.5},{"l":"L2","x":1.3,"y":-0.76},{"l":"L2","x":0.6,"y":-0.72},{"l":"L2","x":0,"y":-0.55},{"l":"L2","x":-0.2,"y":0},
{"l":"L4","x":0,"y":0.55},{"l":"L4","x":0.45,"y":0.58},{"l":"L4","x":0.6,"y":0.42},{"l":"L4","x":0.57,"y":0.2},{"l":"L4","x":0.55,"y":0},{"l":"L4","x":0.57,"y":-0.2},{"l":"L4","x":0.6,"y":-0.42},{"l":"L4","x":0.45,"y":-0.58},{"l":"L4","x":0,"y":-0.55},{"l":"L4","x":-0.2,"y":0},
{"l":"W","x":0.52,"y":0},{"l":"W","x":0.37,"y":0.39},{"l":"W","x":0,"y":0.55},{"l":"W","x":-0.37,"y":0.39},{"l":"W","x":-0.52,"y":0},{"l":"W","x":-0.37,"y":-0.39},{"l":"W","x":0,"y":-0.55},{"l":"W","x":0.37,"y":-0.39}]},"mark":{"type":"line","style":"c","interpolate":"cardinal-closed"},"encoding":{"fill":{"field":"l","type":"nominal","legend":null},"stroke":{"field":"l","type":"ordinal","legend":null},"order":{"value":null}}},
{"data":{"values":[{"x":4.8,"y":0.92,"t":"Nodal"}]},"mark":{"type":"text","style":"lab"},"encoding":{"text":{"field":"t"}}}]},

{"encoding":{"x":{"field":"x","type":"quantitative","scale":{"domain":[-1,5],"range":[160.8,265]},"axis":{"orient":"bottom","offset":-295.7,"title":"x/Dₘ","values":[-1,0,1,2,3,4,5],"labelExpr":"''+datum.value"}},"y":{"field":"y","type":"quantitative","scale":{"domain":[-1.2,1.2],"range":[344.3,303.3],"nice":false},"axis":{"orient":"left","offset":-160.8,"title":"y/Dₘ","values":[-1.2,-0.6,0,0.6,1.2],"labelExpr":"''+datum.value"}}},"layer":[{"data":{"name":"bgS"},"mark":{"type":"rect","style":"bg"},"encoding":{"x2":{"field":"x2"},"y2":{"field":"y2"}}},{"data":{"values":[
{"l":"L1","x":0,"y":0.45},{"l":"L1","x":1.0,"y":0.6},{"l":"L1","x":2.0,"y":0.62},{"l":"L1","x":2.42,"y":0.42},{"l":"L1","x":2.25,"y":0.05},{"l":"L1","x":2.42,"y":-0.35},{"l":"L1","x":2,"y":-0.55},{"l":"L1","x":1.0,"y":-0.55},{"l":"L1","x":0,"y":-0.45},{"l":"L1","x":-0.2,"y":0},
{"l":"L2","x":0,"y":0.45},{"l":"L2","x":0.8,"y":0.6},{"l":"L2","x":1.5,"y":0.58},{"l":"L2","x":0.95,"y":0.42},{"l":"L2","x":0.75,"y":0.1},{"l":"L2","x":0.75,"y":-0.2},{"l":"L2","x":0.95,"y":-0.4},{"l":"L2","x":0.4,"y":-0.45},{"l":"L2","x":0,"y":-0.45},{"l":"L2","x":-0.2,"y":0},
{"l":"L4","x":0,"y":0.44},{"l":"L4","x":0.45,"y":0.42},{"l":"L4","x":0.62,"y":0.05},{"l":"L4","x":0.58,"y":-0.2},{"l":"L4","x":0.38,"y":-0.42},{"l":"L4","x":0,"y":-0.44},{"l":"L4","x":-0.2,"y":0},
{"l":"W","x":0.52,"y":0},{"l":"W","x":0.37,"y":0.31},{"l":"W","x":0,"y":0.44},{"l":"W","x":-0.37,"y":0.31},{"l":"W","x":-0.52,"y":0},{"l":"W","x":-0.37,"y":-0.31},{"l":"W","x":0,"y":-0.44},{"l":"W","x":0.37,"y":-0.31}]},"mark":{"type":"line","style":"c","interpolate":"cardinal-closed"},"encoding":{"fill":{"field":"l","type":"nominal","legend":null},"stroke":{"field":"l","type":"ordinal","legend":null},"order":{"value":null}}},
{"data":{"values":[{"x":4.8,"y":0.92,"t":"Saddle"}]},"mark":{"type":"text","style":"lab"},"encoding":{"text":{"field":"t"}}},
{"data":{"values":[{"x":-2.26,"y":-2.82,"t":"(c)"}]},"mark":{"type":"text","style":"cap"},"encoding":{"text":{"field":"t"}}}]},

{"encoding":{"x":{"field":"x","type":"quantitative","scale":{"domain":[-1,5],"range":[160.8,265]},"axis":{"orient":"bottom","offset":-212.3,"title":null,"values":[-1,0,1,2,3,4,5],"labels":false}},"y":{"field":"y","type":"quantitative","scale":{"domain":[-1.2,1.2],"range":[427.7,386.7],"nice":false},"axis":{"orient":"left","offset":-160.8,"title":"y/Dₘ","values":[-1.2,-0.6,0,0.6,1.2],"labelExpr":"''+datum.value"}}},"layer":[{"data":{"name":"bgS"},"mark":{"type":"rect","style":"bg"},"encoding":{"x2":{"field":"x2"},"y2":{"field":"y2"}}},{"data":{"values":[
{"l":"L1","x":0,"y":0.6},{"l":"L1","x":0.6,"y":0.68},{"l":"L1","x":1.5,"y":0.68},{"l":"L1","x":2.5,"y":0.55},{"l":"L1","x":2.95,"y":0.15},{"l":"L1","x":2.95,"y":-0.1},{"l":"L1","x":2.6,"y":-0.5},{"l":"L1","x":2,"y":-0.6},{"l":"L1","x":1,"y":-0.65},{"l":"L1","x":0,"y":-0.6},{"l":"L1","x":-0.3,"y":0},
{"l":"L2","x":0,"y":0.6},{"l":"L2","x":0.6,"y":0.68},{"l":"L2","x":1.5,"y":0.66},{"l":"L2","x":2.3,"y":0.52},{"l":"L2","x":1.5,"y":0.52},{"l":"L2","x":1.1,"y":0.35},{"l":"L2","x":0.95,"y":0.15},{"l":"L2","x":0.85,"y":-0.05},{"l":"L2","x":0.9,"y":-0.3},{"l":"L2","x":1.6,"y":-0.52},{"l":"L2","x":2.3,"y":-0.55},{"l":"L2","x":1,"y":-0.66},{"l":"L2","x":0,"y":-0.6},{"l":"L2","x":-0.2,"y":0},
{"l":"L4","x":0,"y":0.6},{"l":"L4","x":0.6,"y":0.66},{"l":"L4","x":1.4,"y":0.62},{"l":"L4","x":0.75,"y":0.52},{"l":"L4","x":0.66,"y":0.2},{"l":"L4","x":0.64,"y":-0.1},{"l":"L4","x":0.72,"y":-0.5},{"l":"L4","x":1.4,"y":-0.6},{"l":"L4","x":0.6,"y":-0.64},{"l":"L4","x":0,"y":-0.6},{"l":"L4","x":-0.2,"y":0},
{"l":"W","x":0.61,"y":0},{"l":"W","x":0.43,"y":0.42},{"l":"W","x":0,"y":0.59},{"l":"W","x":-0.43,"y":0.42},{"l":"W","x":-0.61,"y":0},{"l":"W","x":-0.43,"y":-0.42},{"l":"W","x":0,"y":-0.59},{"l":"W","x":0.43,"y":-0.42}]},"mark":{"type":"line","style":"c","interpolate":"cardinal-closed"},"encoding":{"fill":{"field":"l","type":"nominal","legend":null},"stroke":{"field":"l","type":"ordinal","legend":null},"order":{"value":null}}},
{"data":{"values":[{"x":4.8,"y":0.92,"t":"Nodal"}]},"mark":{"type":"text","style":"lab"},"encoding":{"text":{"field":"t"}}}]},

{"encoding":{"x":{"field":"x","type":"quantitative","scale":{"domain":[-1,5],"range":[160.8,265]},"axis":{"orient":"bottom","offset":-164.3,"title":"x/Dₘ","values":[-1,0,1,2,3,4,5],"labelExpr":"''+datum.value"}},"y":{"field":"y","type":"quantitative","scale":{"domain":[-1.2,1.2],"range":[475.7,435],"nice":false},"axis":{"orient":"left","offset":-160.8,"title":"y/Dₘ","values":[-1.2,-0.6,0,0.6,1.2],"labelExpr":"''+datum.value"}}},"layer":[{"data":{"name":"bgS"},"mark":{"type":"rect","style":"bg"},"encoding":{"x2":{"field":"x2"},"y2":{"field":"y2"}}},{"data":{"values":[
{"l":"L1","x":0,"y":0.42},{"l":"L1","x":0.8,"y":0.62},{"l":"L1","x":2,"y":0.65},{"l":"L1","x":2.55,"y":0.5},{"l":"L1","x":2.4,"y":0.25},{"l":"L1","x":1.85,"y":0.1},{"l":"L1","x":1.9,"y":-0.2},{"l":"L1","x":2.42,"y":-0.35},{"l":"L1","x":2.5,"y":-0.6},{"l":"L1","x":1.5,"y":-0.77},{"l":"L1","x":0.8,"y":-0.72},{"l":"L1","x":0,"y":-0.42},{"l":"L1","x":-0.2,"y":0},
{"l":"L2","x":0,"y":0.42},{"l":"L2","x":0.7,"y":0.58},{"l":"L2","x":1.4,"y":0.65},{"l":"L2","x":0.75,"y":0.45},{"l":"L2","x":0.8,"y":0.1},{"l":"L2","x":0.7,"y":-0.2},{"l":"L2","x":0.75,"y":-0.6},{"l":"L2","x":0,"y":-0.42},{"l":"L2","x":-0.2,"y":0},
{"l":"L4","x":0,"y":0.42},{"l":"L4","x":0.4,"y":0.38},{"l":"L4","x":0.52,"y":0},{"l":"L4","x":0.5,"y":-0.35},{"l":"L4","x":0.42,"y":-0.5},{"l":"L4","x":0,"y":-0.42},{"l":"L4","x":-0.2,"y":0},
{"l":"W","x":0.43,"y":0},{"l":"W","x":0.31,"y":0.29},{"l":"W","x":0,"y":0.41},{"l":"W","x":-0.31,"y":0.29},{"l":"W","x":-0.43,"y":0},{"l":"W","x":-0.31,"y":-0.29},{"l":"W","x":0,"y":-0.41},{"l":"W","x":0.31,"y":-0.29}]},"mark":{"type":"line","style":"c","interpolate":"cardinal-closed"},"encoding":{"fill":{"field":"l","type":"nominal","legend":null},"stroke":{"field":"l","type":"ordinal","legend":null},"order":{"value":null}}},
{"data":{"values":[{"x":4.8,"y":0.92,"t":"Saddle"}]},"mark":{"type":"text","style":"lab"},"encoding":{"text":{"field":"t"}}},
{"data":{"values":[{"x":-2.26,"y":-2.93,"t":"(d)"}]},"mark":{"type":"text","style":"cap"},"encoding":{"text":{"field":"t"}}}]},

{"encoding":{"x":{"field":"x","type":"quantitative","scale":{"domain":[-1,5],"range":[160.8,265]},"axis":{"orient":"bottom","offset":-83.7,"title":null,"values":[-1,0,1,2,3,4,5],"labels":false}},"y":{"field":"y","type":"quantitative","scale":{"domain":[-1.2,1.2],"range":[556.3,515],"nice":false},"axis":{"orient":"left","offset":-160.8,"title":"y/Dₘ","values":[-1.2,-0.6,0,0.6,1.2],"labelExpr":"''+datum.value"}}},"layer":[{"data":{"name":"bgS"},"mark":{"type":"rect","style":"bg"},"encoding":{"x2":{"field":"x2"},"y2":{"field":"y2"}}},{"data":{"values":[
{"l":"L1","x":0,"y":0.42},{"l":"L1","x":0.5,"y":0.5},{"l":"L1","x":2,"y":0.5},{"l":"L1","x":3.3,"y":0.47},{"l":"L1","x":3.42,"y":0.15},{"l":"L1","x":3.35,"y":-0.1},{"l":"L1","x":3.42,"y":-0.35},{"l":"L1","x":3.2,"y":-0.47},{"l":"L1","x":2,"y":-0.48},{"l":"L1","x":0.5,"y":-0.5},{"l":"L1","x":0,"y":-0.42},{"l":"L1","x":-0.2,"y":0},
{"l":"L2","x":0,"y":0.42},{"l":"L2","x":0.5,"y":0.5},{"l":"L2","x":1.5,"y":0.5},{"l":"L2","x":2.7,"y":0.47},{"l":"L2","x":1.5,"y":0.44},{"l":"L2","x":0.8,"y":0.37},{"l":"L2","x":0.68,"y":0},{"l":"L2","x":0.8,"y":-0.37},{"l":"L2","x":1.5,"y":-0.44},{"l":"L2","x":2.7,"y":-0.47},{"l":"L2","x":1.5,"y":-0.5},{"l":"L2","x":0.5,"y":-0.5},{"l":"L2","x":0,"y":-0.42},{"l":"L2","x":-0.2,"y":0},
{"l":"L4","x":0,"y":0.42},{"l":"L4","x":0.5,"y":0.5},{"l":"L4","x":1.6,"y":0.48},{"l":"L4","x":0.7,"y":0.42},{"l":"L4","x":0.64,"y":0},{"l":"L4","x":0.7,"y":-0.42},{"l":"L4","x":1.6,"y":-0.48},{"l":"L4","x":0.5,"y":-0.5},{"l":"L4","x":0,"y":-0.42},{"l":"L4","x":-0.2,"y":0},
{"l":"W","x":0.6,"y":0},{"l":"W","x":0.43,"y":0.3},{"l":"W","x":0,"y":0.42},{"l":"W","x":-0.43,"y":0.3},{"l":"W","x":-0.6,"y":0},{"l":"W","x":-0.43,"y":-0.3},{"l":"W","x":0,"y":-0.42},{"l":"W","x":0.43,"y":-0.3}]},"mark":{"type":"line","style":"c","interpolate":"cardinal-closed"},"encoding":{"fill":{"field":"l","type":"nominal","legend":null},"stroke":{"field":"l","type":"ordinal","legend":null},"order":{"value":null}}},
{"data":{"values":[{"x":4.8,"y":0.92,"t":"Nodal"}]},"mark":{"type":"text","style":"lab"},"encoding":{"text":{"field":"t"}}}]},

{"encoding":{"x":{"field":"x","type":"quantitative","scale":{"domain":[-1,5],"range":[160.8,265]},"axis":{"orient":"bottom","offset":-35,"title":"x/Dₘ","values":[-1,0,1,2,3,4,5],"labelExpr":"''+datum.value"}},"y":{"field":"y","type":"quantitative","scale":{"domain":[-1.2,1.2],"range":[605,563.3],"nice":false},"axis":{"orient":"left","offset":-160.8,"title":"y/Dₘ","values":[-1.2,-0.6,0,0.6,1.2],"labelExpr":"''+datum.value"}}},"layer":[{"data":{"name":"bgS"},"mark":{"type":"rect","style":"bg"},"encoding":{"x2":{"field":"x2"},"y2":{"field":"y2"}}},{"data":{"values":[
{"l":"L1","x":0,"y":0.6},{"l":"L1","x":0.7,"y":0.85},{"l":"L1","x":1.5,"y":0.92},{"l":"L1","x":2.5,"y":0.82},{"l":"L1","x":3.05,"y":0.55},{"l":"L1","x":2.8,"y":0.3},{"l":"L1","x":2.3,"y":0.3},{"l":"L1","x":2.13,"y":-0.13},{"l":"L1","x":2.5,"y":-0.35},{"l":"L1","x":3.05,"y":-0.47},{"l":"L1","x":2.7,"y":-0.7},{"l":"L1","x":1.6,"y":-0.85},{"l":"L1","x":0.7,"y":-0.85},{"l":"L1","x":0,"y":-0.6},{"l":"L1","x":-0.2,"y":0},
{"l":"L2","x":0,"y":0.6},{"l":"L2","x":0.6,"y":0.82},{"l":"L2","x":0.95,"y":0.85},{"l":"L2","x":0.7,"y":0.6},{"l":"L2","x":0.8,"y":0.2},{"l":"L2","x":0.7,"y":-0.3},{"l":"L2","x":0.8,"y":-0.7},{"l":"L2","x":1.1,"y":-0.85},{"l":"L2","x":0.6,"y":-0.82},{"l":"L2","x":0,"y":-0.6},{"l":"L2","x":-0.2,"y":0},
{"l":"L4","x":0,"y":0.6},{"l":"L4","x":0.4,"y":0.55},{"l":"L4","x":0.54,"y":0},{"l":"L4","x":0.5,"y":-0.45},{"l":"L4","x":0.42,"y":-0.65},{"l":"L4","x":0,"y":-0.6},{"l":"L4","x":-0.2,"y":0},
{"l":"W","x":0.46,"y":0},{"l":"W","x":0.33,"y":0.43},{"l":"W","x":0,"y":0.61},{"l":"W","x":-0.33,"y":0.43},{"l":"W","x":-0.46,"y":0},{"l":"W","x":-0.33,"y":-0.43},{"l":"W","x":0,"y":-0.61},{"l":"W","x":0.33,"y":-0.43}]},"mark":{"type":"line","style":"c","interpolate":"cardinal-closed"},"encoding":{"fill":{"field":"l","type":"nominal","legend":null},"stroke":{"field":"l","type":"ordinal","legend":null},"order":{"value":null}}},
{"data":{"values":[{"x":4.8,"y":0.92,"t":"Saddle"}]},"mark":{"type":"text","style":"lab"},"encoding":{"text":{"field":"t"}}},
{"data":{"values":[{"x":-2.26,"y":-2.35,"t":"(e)"}]},"mark":{"type":"text","style":"cap"},"encoding":{"text":{"field":"t"}}}]},

{"encoding":{"x":{"field":"x","type":"quantitative","scale":{"domain":[-1,5],"range":[441,543.7]},"axis":{"orient":"bottom","offset":-475.3,"title":null,"values":[-1,0,1,2,3,4,5],"labels":false}},"y":{"field":"y","type":"quantitative","scale":{"domain":[-1.2,1.2],"range":[164.7,123.3],"nice":false},"axis":{"orient":"left","offset":-441,"title":"y/Dₘ","values":[-1.2,-0.6,0,0.6,1.2],"labelExpr":"''+datum.value"}}},"layer":[{"data":{"name":"bgS"},"mark":{"type":"rect","style":"bg"},"encoding":{"x2":{"field":"x2"},"y2":{"field":"y2"}}},{"data":{"values":[
{"l":"L1","x":0,"y":0.55},{"l":"L1","x":0.8,"y":0.65},{"l":"L1","x":2,"y":0.65},{"l":"L1","x":3,"y":0.5},{"l":"L1","x":3.85,"y":0},{"l":"L1","x":3,"y":-0.5},{"l":"L1","x":2,"y":-0.65},{"l":"L1","x":0.8,"y":-0.65},{"l":"L1","x":0,"y":-0.55},{"l":"L1","x":-0.3,"y":0},
{"l":"L2","x":0,"y":0.55},{"l":"L2","x":0.8,"y":0.62},{"l":"L2","x":2,"y":0.6},{"l":"L2","x":3,"y":0.4},{"l":"L2","x":3.1,"y":0},{"l":"L2","x":3,"y":-0.4},{"l":"L2","x":2,"y":-0.6},{"l":"L2","x":0.8,"y":-0.62},{"l":"L2","x":0,"y":-0.55},{"l":"L2","x":-0.3,"y":0},
{"l":"M","x":1.25,"y":0.38},{"l":"M","x":2.2,"y":0.38},{"l":"M","x":3,"y":0.38},{"l":"M","x":3.3,"y":0},{"l":"M","x":3,"y":-0.38},{"l":"M","x":2.2,"y":-0.38},{"l":"M","x":1.25,"y":-0.38},{"l":"M","x":1.3,"y":0},
{"l":"L4","x":0,"y":0.55},{"l":"L4","x":0.8,"y":0.62},{"l":"L4","x":1.2,"y":0.55},{"l":"L4","x":0.8,"y":0.4},{"l":"L4","x":0.72,"y":0},{"l":"L4","x":0.8,"y":-0.4},{"l":"L4","x":1.2,"y":-0.55},{"l":"L4","x":0.8,"y":-0.62},{"l":"L4","x":0,"y":-0.55},{"l":"L4","x":-0.3,"y":0},
{"l":"X","x":0.66,"y":0},{"l":"X","x":0.47,"y":0.4},{"l":"X","x":0,"y":0.57},{"l":"X","x":-0.47,"y":0.4},{"l":"X","x":-0.66,"y":0},{"l":"X","x":-0.47,"y":-0.4},{"l":"X","x":0,"y":-0.57},{"l":"X","x":0.47,"y":-0.4}]},"mark":{"type":"line","style":"c","interpolate":"cardinal-closed"},"encoding":{"fill":{"field":"l","type":"nominal","legend":null},"stroke":{"field":"l","type":"ordinal","legend":null},"order":{"value":null}}},
{"data":{"values":[{"x":4.8,"y":0.92,"t":"Nodal"}]},"mark":{"type":"text","style":"lab"},"encoding":{"text":{"field":"t"}}}]},

{"encoding":{"x":{"field":"x","type":"quantitative","scale":{"domain":[-1,5],"range":[441,543.7]},"axis":{"orient":"bottom","offset":-427,"title":"x/Dₘ","values":[-1,0,1,2,3,4,5],"labelExpr":"''+datum.value"}},"y":{"field":"y","type":"quantitative","scale":{"domain":[-1.2,1.2],"range":[213,171.7],"nice":false},"axis":{"orient":"left","offset":-441,"title":"y/Dₘ","values":[-1.2,-0.6,0,0.6,1.2],"labelExpr":"''+datum.value"}}},"layer":[{"data":{"name":"bgS"},"mark":{"type":"rect","style":"bg"},"encoding":{"x2":{"field":"x2"},"y2":{"field":"y2"}}},{"data":{"values":[
{"l":"L1","x":0,"y":0.56},{"l":"L1","x":0.5,"y":0.8},{"l":"L1","x":1.2,"y":0.88},{"l":"L1","x":2.1,"y":0.87},{"l":"L1","x":1.6,"y":0.75},{"l":"L1","x":1,"y":0.62},{"l":"L1","x":0.8,"y":0.35},{"l":"L1","x":0.8,"y":0.05},{"l":"L1","x":0.95,"y":-0.2},{"l":"L1","x":0.95,"y":-0.45},{"l":"L1","x":1.5,"y":-0.7},{"l":"L1","x":2.2,"y":-0.83},{"l":"L1","x":1.2,"y":-0.85},{"l":"L1","x":0.4,"y":-0.7},{"l":"L1","x":0,"y":-0.56},{"l":"L1","x":-0.3,"y":0},
{"l":"L2","x":0,"y":0.56},{"l":"L2","x":0.4,"y":0.72},{"l":"L2","x":0.8,"y":0.82},{"l":"L2","x":0.5,"y":0.55},{"l":"L2","x":0.5,"y":0.2},{"l":"L2","x":0.5,"y":-0.3},{"l":"L2","x":0.55,"y":-0.6},{"l":"L2","x":1.2,"y":-0.82},{"l":"L2","x":0.4,"y":-0.72},{"l":"L2","x":0,"y":-0.56},{"l":"L2","x":-0.3,"y":0},
{"l":"X","x":0.4,"y":0},{"l":"X","x":0.28,"y":0.4},{"l":"X","x":0,"y":0.56},{"l":"X","x":-0.28,"y":0.4},{"l":"X","x":-0.4,"y":0},{"l":"X","x":-0.28,"y":-0.4},{"l":"X","x":0,"y":-0.56},{"l":"X","x":0.28,"y":-0.4}]},"mark":{"type":"line","style":"c","interpolate":"cardinal-closed"},"encoding":{"fill":{"field":"l","type":"nominal","legend":null},"stroke":{"field":"l","type":"ordinal","legend":null},"order":{"value":null}}},
{"data":{"values":[{"x":4.8,"y":0.92,"t":"Saddle"}]},"mark":{"type":"text","style":"lab"},"encoding":{"text":{"field":"t"}}},
{"data":{"values":[{"x":-2.29,"y":-3.0,"t":"(f)"}]},"mark":{"type":"text","style":"cap"},"encoding":{"text":{"field":"t"}}}]},

{"encoding":{"x":{"field":"x","type":"quantitative","scale":{"domain":[-1,5],"range":[441,543.7]},"axis":{"orient":"bottom","offset":-344,"title":null,"values":[-1,0,1,2,3,4,5],"labels":false}},"y":{"field":"y","type":"quantitative","scale":{"domain":[-1.2,1.2],"range":[296,255],"nice":false},"axis":{"orient":"left","offset":-441,"title":"y/Dₘ","values":[-1.2,-0.6,0,0.6,1.2],"labelExpr":"''+datum.value"}}},"layer":[{"data":{"name":"bgS"},"mark":{"type":"rect","style":"bg"},"encoding":{"x2":{"field":"x2"},"y2":{"field":"y2"}}},{"data":{"values":[
{"l":"L1","x":0,"y":0.67},{"l":"L1","x":0.5,"y":0.85},{"l":"L1","x":1.1,"y":0.98},{"l":"L1","x":2.15,"y":1.0},{"l":"L1","x":1.5,"y":0.82},{"l":"L1","x":0.95,"y":0.6},{"l":"L1","x":0.75,"y":0.35},{"l":"L1","x":0.75,"y":-0.05},{"l":"L1","x":0.85,"y":-0.35},{"l":"L1","x":1.3,"y":-0.75},{"l":"L1","x":2.3,"y":-0.97},{"l":"L1","x":1.2,"y":-0.95},{"l":"L1","x":0.5,"y":-0.85},{"l":"L1","x":0,"y":-0.67},{"l":"L1","x":-0.3,"y":0},
{"l":"L2","x":0,"y":0.67},{"l":"L2","x":0.4,"y":0.78},{"l":"L2","x":0.85,"y":0.85},{"l":"L2","x":0.55,"y":0.55},{"l":"L2","x":0.55,"y":0},{"l":"L2","x":0.55,"y":-0.5},{"l":"L2","x":1.2,"y":-0.85},{"l":"L2","x":0.6,"y":-0.82},{"l":"L2","x":0,"y":-0.67},{"l":"L2","x":-0.3,"y":0},
{"l":"X","x":0.51,"y":0},{"l":"X","x":0.36,"y":0.48},{"l":"X","x":0,"y":0.67},{"l":"X","x":-0.36,"y":0.48},{"l":"X","x":-0.51,"y":0},{"l":"X","x":-0.36,"y":-0.48},{"l":"X","x":0,"y":-0.67},{"l":"X","x":0.36,"y":-0.48}]},"mark":{"type":"line","style":"c","interpolate":"cardinal-closed"},"encoding":{"fill":{"field":"l","type":"nominal","legend":null},"stroke":{"field":"l","type":"ordinal","legend":null},"order":{"value":null}}},
{"data":{"values":[{"x":4.8,"y":0.92,"t":"Nodal"}]},"mark":{"type":"text","style":"lab"},"encoding":{"text":{"field":"t"}}}]},

{"encoding":{"x":{"field":"x","type":"quantitative","scale":{"domain":[-1,5],"range":[441,543.7]},"axis":{"orient":"bottom","offset":-295.7,"title":"x/Dₘ","values":[-1,0,1,2,3,4,5],"labelExpr":"''+datum.value"}},"y":{"field":"y","type":"quantitative","scale":{"domain":[-1.2,1.2],"range":[344.3,303.3],"nice":false},"axis":{"orient":"left","offset":-441,"title":"y/Dₘ","values":[-1.2,-0.6,0,0.6,1.2],"labelExpr":"''+datum.value"}}},"layer":[{"data":{"name":"bgS"},"mark":{"type":"rect","style":"bg"},"encoding":{"x2":{"field":"x2"},"y2":{"field":"y2"}}},{"data":{"values":[
{"l":"L1","x":0,"y":0.4},{"l":"L1","x":0.6,"y":0.5},{"l":"L1","x":2,"y":0.52},{"l":"L1","x":3.2,"y":0.45},{"l":"L1","x":4.2,"y":0},{"l":"L1","x":3.2,"y":-0.45},{"l":"L1","x":2,"y":-0.52},{"l":"L1","x":0.6,"y":-0.5},{"l":"L1","x":0,"y":-0.4},{"l":"L1","x":-0.3,"y":0},
{"l":"L2","x":0,"y":0.4},{"l":"L2","x":0.6,"y":0.48},{"l":"L2","x":2,"y":0.48},{"l":"L2","x":3,"y":0.36},{"l":"L2","x":3.45,"y":0.2},{"l":"L2","x":3.55,"y":0},{"l":"L2","x":3.45,"y":-0.2},{"l":"L2","x":3,"y":-0.36},{"l":"L2","x":2,"y":-0.48},{"l":"L2","x":0.6,"y":-0.48},{"l":"L2","x":0,"y":-0.4},{"l":"L2","x":-0.3,"y":0},
{"l":"M","x":1.95,"y":0.15},{"l":"M","x":2.4,"y":0.22},{"l":"M","x":3.3,"y":0.2},{"l":"M","x":3.6,"y":0},{"l":"M","x":3.3,"y":-0.2},{"l":"M","x":2.4,"y":-0.22},{"l":"M","x":1.95,"y":-0.15},{"l":"M","x":1.85,"y":0},
{"l":"L3","x":0,"y":0.4},{"l":"L3","x":0.7,"y":0.48},{"l":"L3","x":1.6,"y":0.45},{"l":"L3","x":1.1,"y":0.25},{"l":"L3","x":1,"y":0},{"l":"L3","x":1.1,"y":-0.25},{"l":"L3","x":1.6,"y":-0.45},{"l":"L3","x":0.7,"y":-0.48},{"l":"L3","x":0,"y":-0.4},{"l":"L3","x":-0.3,"y":0},
{"l":"L4","x":0,"y":0.4},{"l":"L4","x":0.6,"y":0.47},{"l":"L4","x":0.85,"y":0.3},{"l":"L4","x":0.9,"y":0},{"l":"L4","x":0.85,"y":-0.3},{"l":"L4","x":0.6,"y":-0.47},{"l":"L4","x":0,"y":-0.4},{"l":"L4","x":-0.3,"y":0},
{"l":"X","x":0.51,"y":0},{"l":"X","x":0.36,"y":0.28},{"l":"X","x":0,"y":0.39},{"l":"X","x":-0.36,"y":0.28},{"l":"X","x":-0.51,"y":0},{"l":"X","x":-0.36,"y":-0.28},{"l":"X","x":0,"y":-0.39},{"l":"X","x":0.36,"y":-0.28}]},"mark":{"type":"line","style":"c","interpolate":"cardinal-closed"},"encoding":{"fill":{"field":"l","type":"nominal","legend":null},"stroke":{"field":"l","type":"ordinal","legend":null},"order":{"value":null}}},
{"data":{"values":[{"x":4.8,"y":0.92,"t":"Saddle"}]},"mark":{"type":"text","style":"lab"},"encoding":{"text":{"field":"t"}}},
{"data":{"values":[{"x":-2.29,"y":-2.82,"t":"(g)"}]},"mark":{"type":"text","style":"cap"},"encoding":{"text":{"field":"t"}}}]},

{"encoding":{"x":{"field":"x","type":"quantitative","scale":{"domain":[-1,5],"range":[441,543.7]},"axis":{"orient":"bottom","offset":-212.3,"title":null,"values":[-1,0,1,2,3,4,5],"labels":false}},"y":{"field":"y","type":"quantitative","scale":{"domain":[-1.2,1.2],"range":[427.7,386.7],"nice":false},"axis":{"orient":"left","offset":-441,"title":"y/Dₘ","values":[-1.2,-0.6,0,0.6,1.2],"labelExpr":"''+datum.value"}}},"layer":[{"data":{"name":"bgS"},"mark":{"type":"rect","style":"bg"},"encoding":{"x2":{"field":"x2"},"y2":{"field":"y2"}}},{"data":{"values":[
{"l":"L1","x":0,"y":0.72},{"l":"L1","x":0.8,"y":0.85},{"l":"L1","x":2,"y":0.85},{"l":"L1","x":3,"y":0.7},{"l":"L1","x":3.35,"y":0.4},{"l":"L1","x":3.0,"y":0.05},{"l":"L1","x":3.35,"y":-0.4},{"l":"L1","x":3,"y":-0.7},{"l":"L1","x":2,"y":-0.85},{"l":"L1","x":0.8,"y":-0.85},{"l":"L1","x":0,"y":-0.72},{"l":"L1","x":-0.3,"y":0},
{"l":"L2","x":0,"y":0.72},{"l":"L2","x":0.8,"y":0.85},{"l":"L2","x":2.0,"y":0.8},{"l":"L2","x":0.95,"y":0.55},{"l":"L2","x":0.9,"y":0.2},{"l":"L2","x":1.0,"y":-0.1},{"l":"L2","x":0.8,"y":-0.5},{"l":"L2","x":1.8,"y":-0.82},{"l":"L2","x":0.8,"y":-0.85},{"l":"L2","x":0,"y":-0.72},{"l":"L2","x":-0.3,"y":0},
{"l":"L4","x":0,"y":0.72},{"l":"L4","x":0.5,"y":0.78},{"l":"L4","x":0.7,"y":0.4},{"l":"L4","x":0.72,"y":0},{"l":"L4","x":0.7,"y":-0.4},{"l":"L4","x":0.6,"y":-0.78},{"l":"L4","x":0,"y":-0.72},{"l":"L4","x":-0.3,"y":0},
{"l":"X","x":0.66,"y":0},{"l":"X","x":0.47,"y":0.51},{"l":"X","x":0,"y":0.72},{"l":"X","x":-0.47,"y":0.51},{"l":"X","x":-0.66,"y":0},{"l":"X","x":-0.47,"y":-0.51},{"l":"X","x":0,"y":-0.72},{"l":"X","x":0.47,"y":-0.51}]},"mark":{"type":"line","style":"c","interpolate":"cardinal-closed"},"encoding":{"fill":{"field":"l","type":"nominal","legend":null},"stroke":{"field":"l","type":"ordinal","legend":null},"order":{"value":null}}},
{"data":{"values":[{"x":4.8,"y":0.92,"t":"Nodal"}]},"mark":{"type":"text","style":"lab"},"encoding":{"text":{"field":"t"}}}]},

{"encoding":{"x":{"field":"x","type":"quantitative","scale":{"domain":[-1,5],"range":[441,543.7]},"axis":{"orient":"bottom","offset":-164.3,"title":"x/Dₘ","values":[-1,0,1,2,3,4,5],"labelExpr":"''+datum.value"}},"y":{"field":"y","type":"quantitative","scale":{"domain":[-1.2,1.2],"range":[475.7,435],"nice":false},"axis":{"orient":"left","offset":-441,"title":"y/Dₘ","values":[-1.2,-0.6,0,0.6,1.2],"labelExpr":"''+datum.value"}}},"layer":[{"data":{"name":"bgS"},"mark":{"type":"rect","style":"bg"},"encoding":{"x2":{"field":"x2"},"y2":{"field":"y2"}}},{"data":{"values":[
{"l":"L1","x":0,"y":0.35},{"l":"L1","x":0.5,"y":0.42},{"l":"L1","x":1.8,"y":0.55},{"l":"L1","x":3,"y":0.45},{"l":"L1","x":3.25,"y":0.2},{"l":"L1","x":3.15,"y":0},{"l":"L1","x":3.25,"y":-0.3},{"l":"L1","x":2.8,"y":-0.55},{"l":"L1","x":1.5,"y":-0.6},{"l":"L1","x":0.6,"y":-0.5},{"l":"L1","x":0,"y":-0.35},{"l":"L1","x":-0.3,"y":0},
{"l":"L2","x":0,"y":0.35},{"l":"L2","x":0.5,"y":0.45},{"l":"L2","x":1,"y":0.5},{"l":"L2","x":2,"y":0.52},{"l":"L2","x":0.95,"y":0.3},{"l":"L2","x":0.8,"y":0.1},{"l":"L2","x":0.95,"y":-0.2},{"l":"L2","x":1,"y":-0.45},{"l":"L2","x":0.5,"y":-0.5},{"l":"L2","x":0,"y":-0.35},{"l":"L2","x":-0.3,"y":0},
{"l":"L4","x":0,"y":0.35},{"l":"L4","x":0.3,"y":0.4},{"l":"L4","x":0.55,"y":0.2},{"l":"L4","x":0.55,"y":-0.1},{"l":"L4","x":0.5,"y":-0.35},{"l":"L4","x":0,"y":-0.35},{"l":"L4","x":-0.3,"y":0},
{"l":"X","x":0.36,"y":0},{"l":"X","x":0.26,"y":0.25},{"l":"X","x":0,"y":0.35},{"l":"X","x":-0.26,"y":0.25},{"l":"X","x":-0.36,"y":0},{"l":"X","x":-0.26,"y":-0.25},{"l":"X","x":0,"y":-0.35},{"l":"X","x":0.26,"y":-0.25}]},"mark":{"type":"line","style":"c","interpolate":"cardinal-closed"},"encoding":{"fill":{"field":"l","type":"nominal","legend":null},"stroke":{"field":"l","type":"ordinal","legend":null},"order":{"value":null}}},
{"data":{"values":[{"x":4.8,"y":0.92,"t":"Saddle"}]},"mark":{"type":"text","style":"lab"},"encoding":{"text":{"field":"t"}}},
{"data":{"values":[{"x":-2.29,"y":-2.93,"t":"(h)"}]},"mark":{"type":"text","style":"cap"},"encoding":{"text":{"field":"t"}}}]},

{"encoding":{"x":{"field":"x","type":"quantitative","scale":{"domain":[-1,5],"range":[441,543.7]},"axis":{"orient":"bottom","offset":-83.7,"title":null,"values":[-1,0,1,2,3,4,5],"labels":false}},"y":{"field":"y","type":"quantitative","scale":{"domain":[-1.2,1.2],"range":[556.3,515],"nice":false},"axis":{"orient":"left","offset":-441,"title":"y/Dₘ","values":[-1.2,-0.6,0,0.6,1.2],"labelExpr":"''+datum.value"}}},"layer":[{"data":{"name":"bgS"},"mark":{"type":"rect","style":"bg"},"encoding":{"x2":{"field":"x2"},"y2":{"field":"y2"}}},{"data":{"values":[
{"l":"L1","x":0,"y":0.36},{"l":"L1","x":0.8,"y":0.45},{"l":"L1","x":2,"y":0.42},{"l":"L1","x":3.2,"y":0.25},{"l":"L1","x":4.1,"y":0},{"l":"L1","x":3.2,"y":-0.25},{"l":"L1","x":2,"y":-0.42},{"l":"L1","x":0.8,"y":-0.45},{"l":"L1","x":0,"y":-0.36},{"l":"L1","x":-0.3,"y":0},
{"l":"L2","x":0,"y":0.36},{"l":"L2","x":0.8,"y":0.44},{"l":"L2","x":2,"y":0.38},{"l":"L2","x":3.3,"y":0.12},{"l":"L2","x":3.4,"y":0},{"l":"L2","x":3.3,"y":-0.12},{"l":"L2","x":2,"y":-0.38},{"l":"L2","x":0.8,"y":-0.44},{"l":"L2","x":0,"y":-0.36},{"l":"L2","x":-0.3,"y":0},
{"l":"L3","x":0,"y":0.36},{"l":"L3","x":0.8,"y":0.42},{"l":"L3","x":1.3,"y":0.35},{"l":"L3","x":1.4,"y":0},{"l":"L3","x":1.3,"y":-0.35},{"l":"L3","x":0.8,"y":-0.42},{"l":"L3","x":0,"y":-0.36},{"l":"L3","x":-0.3,"y":0},
{"l":"L4","x":0,"y":0.36},{"l":"L4","x":0.7,"y":0.4},{"l":"L4","x":1,"y":0.3},{"l":"L4","x":1.1,"y":0},{"l":"L4","x":1,"y":-0.3},{"l":"L4","x":0.7,"y":-0.4},{"l":"L4","x":0,"y":-0.36},{"l":"L4","x":-0.3,"y":0},
{"l":"L6","x":0,"y":0.36},{"l":"L6","x":0.6,"y":0.35},{"l":"L6","x":0.8,"y":0},{"l":"L6","x":0.6,"y":-0.35},{"l":"L6","x":0,"y":-0.36},{"l":"L6","x":-0.3,"y":0},
{"l":"X","x":0.65,"y":0},{"l":"X","x":0.46,"y":0.26},{"l":"X","x":0,"y":0.36},{"l":"X","x":-0.46,"y":0.26},{"l":"X","x":-0.65,"y":0},{"l":"X","x":-0.46,"y":-0.26},{"l":"X","x":0,"y":-0.36},{"l":"X","x":0.46,"y":-0.26}]},"mark":{"type":"line","style":"c","interpolate":"cardinal-closed"},"encoding":{"fill":{"field":"l","type":"nominal","legend":null},"stroke":{"field":"l","type":"ordinal","legend":null},"order":{"value":null}}},
{"data":{"values":[{"x":4.8,"y":0.92,"t":"Nodal"}]},"mark":{"type":"text","style":"lab"},"encoding":{"text":{"field":"t"}}}]},

{"encoding":{"x":{"field":"x","type":"quantitative","scale":{"domain":[-1,5],"range":[441,543.7]},"axis":{"orient":"bottom","offset":-35,"title":"x/Dₘ","values":[-1,0,1,2,3,4,5],"labelExpr":"''+datum.value"}},"y":{"field":"y","type":"quantitative","scale":{"domain":[-1.2,1.2],"range":[605,563.3],"nice":false},"axis":{"orient":"left","offset":-441,"title":"y/Dₘ","values":[-1.2,-0.6,0,0.6,1.2],"labelExpr":"''+datum.value"}}},"layer":[{"data":{"name":"bgS"},"mark":{"type":"rect","style":"bg"},"encoding":{"x2":{"field":"x2"},"y2":{"field":"y2"}}},{"data":{"values":[
{"l":"L1","x":0,"y":0.68},{"l":"L1","x":0.3,"y":0.9},{"l":"L1","x":1.3,"y":1.08},{"l":"L1","x":0.7,"y":0.75},{"l":"L1","x":0.5,"y":0.4},{"l":"L1","x":0.45,"y":0},{"l":"L1","x":0.5,"y":-0.4},{"l":"L1","x":0.7,"y":-0.8},{"l":"L1","x":1.35,"y":-1.1},{"l":"L1","x":0.3,"y":-0.95},{"l":"L1","x":0,"y":-0.68},{"l":"L1","x":-0.2,"y":0},
{"l":"L2","x":0,"y":0.68},{"l":"L2","x":0.25,"y":0.8},{"l":"L2","x":0.55,"y":0.9},{"l":"L2","x":0.45,"y":0.55},{"l":"L2","x":0.42,"y":0},{"l":"L2","x":0.45,"y":-0.55},{"l":"L2","x":0.6,"y":-0.9},{"l":"L2","x":0.2,"y":-0.8},{"l":"L2","x":0,"y":-0.68},{"l":"L2","x":-0.2,"y":0},
{"l":"X","x":0.35,"y":0},{"l":"X","x":0.25,"y":0.48},{"l":"X","x":0,"y":0.68},{"l":"X","x":-0.25,"y":0.48},{"l":"X","x":-0.35,"y":0},{"l":"X","x":-0.25,"y":-0.48},{"l":"X","x":0,"y":-0.68},{"l":"X","x":0.25,"y":-0.48}]},"mark":{"type":"line","style":"c","interpolate":"cardinal-closed"},"encoding":{"fill":{"field":"l","type":"nominal","legend":null},"stroke":{"field":"l","type":"ordinal","legend":null},"order":{"value":null}}},
{"data":{"values":[{"x":4.8,"y":0.92,"t":"Saddle"}]},"mark":{"type":"text","style":"lab"},"encoding":{"text":{"field":"t"}}},
{"data":{"values":[{"x":-2.29,"y":-2.35,"t":"(i)"}]},"mark":{"type":"text","style":"cap"},"encoding":{"text":{"field":"t"}}}]}
]}
